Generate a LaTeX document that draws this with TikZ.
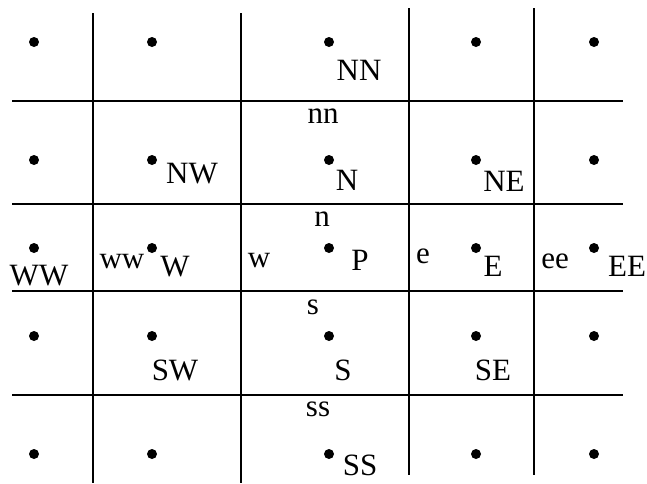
\documentclass[tikz,border=0pt]{standalone}
\usepackage{fontspec}
\setmainfont{Liberation Serif}
\begin{document}
\begin{tikzpicture}[x=1pt,y=-1pt,
  gridline/.style={line width=1.3pt,black},
  pt/.style={circle,fill=black,inner sep=0pt,minimum size=10pt},
  lbl/.style={anchor=base,inner sep=0pt,font=\fontsize{31}{31}\selectfont}]
\useasboundingbox (0,0) rectangle (647,483);
% grid lines
\draw[gridline] (93,13) -- (93,483);
\draw[gridline] (241,13) -- (241,483);
\draw[gridline] (409,8) -- (409,475);
\draw[gridline] (534,8) -- (534,475);
\draw[gridline] (12,101) -- (623,101);
\draw[gridline] (12,204) -- (623,204);
\draw[gridline] (12,291) -- (623,291);
\draw[gridline] (12,395) -- (623,395);
% dots
\foreach \r/\y in {1/42,2/160,3/248,4/336,5/454}{
  \foreach \c/\x in {1/34,2/152,3/329,4/476,5/594}{
    \node[pt] (d\r\c) at (\x,\y) {};
  }
}
% labels
\node[lbl] (NN) at (359,80) {NN};
\node[lbl] (nn) at (323,123) {nn};
\node[lbl] (NW) at (192,183) {NW};
\node[lbl] (N) at (347,190) {N};
\node[lbl] (NE) at (504,191) {NE};
\node[lbl] (n) at (322,226) {n};
\node[lbl] (WW) at (39,285) {WW};
\node[lbl] (ww) at (122,268) {ww};
\node[lbl] (W) at (175,276) {W};
\node[lbl] (w) at (259,267) {w};
\node[lbl] (P) at (360,270) {P};
\node[lbl] (e) at (423,263) {e};
\node[lbl] (E) at (493,276) {E};
\node[lbl] (ee) at (555,268) {ee};
\node[lbl] (EE) at (627,276) {EE};
\node[lbl] (s) at (313,314) {s};
\node[lbl] (SW) at (175,380) {SW};
\node[lbl] (S) at (343,380) {S};
\node[lbl] (SE) at (493,380) {SE};
\node[lbl] (ss) at (318,416) {ss};
\node[lbl] (SS) at (360,475) {SS};
\end{tikzpicture}
\end{document}
